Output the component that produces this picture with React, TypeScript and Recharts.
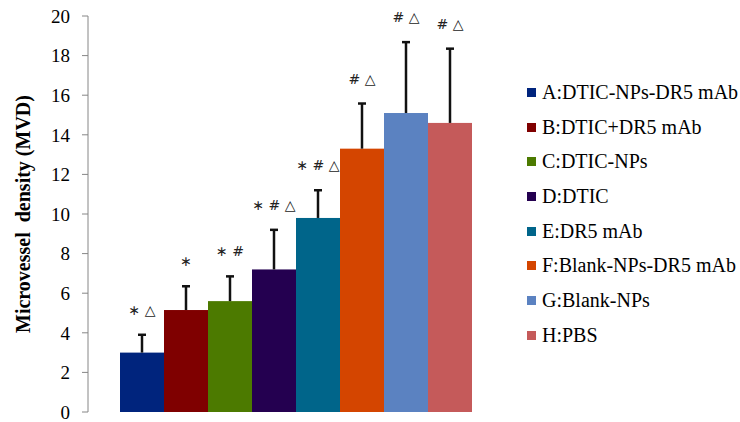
import { BarChart, Bar, XAxis, YAxis, Legend } from "recharts";

const keys = ["A", "B", "C", "D", "E", "F", "G", "H"];
const groups = [
  "A:DTIC-NPs-DR5 mAb",
  "B:DTIC+DR5 mAb",
  "C:DTIC-NPs",
  "D:DTIC",
  "E:DR5 mAb",
  "F:Blank-NPs-DR5 mAb",
  "G:Blank-NPs",
  "H:PBS",
];
const means = [3.0, 5.15, 5.6, 7.2, 9.8, 13.3, 15.1, 14.6];
const errors = [0.9, 1.2, 1.25, 2.0, 1.4, 2.28, 3.58, 3.75];
const marks = ["∗ △", "∗", "∗ #", "∗ # △", "∗ # △", "# △", "# △", "# △"];
const colors = [
  "#00247D",
  "#7F0000",
  "#4C7A00",
  "#240050",
  "#00658A",
  "#D44500",
  "#5B82C1",
  "#C55A5A",
];
const yTicks = [0, 2, 4, 6, 8, 10, 12, 14, 16, 18, 20];

const row: Record<string, string | number> = { name: "MVD" };
keys.forEach((k, i) => {
  row[k] = means[i];
});
const data = [row];

const serif = '"Liberation Serif", "DejaVu Serif", serif';

function BarWithError(props: any) {
  const { x, y, width, height, fill, err, mean, mark } = props;
  const pxPerUnit = height / mean;
  const cx = x + width / 2;
  const top = y - err * pxPerUnit;
  return (
    <g>
      <rect x={x} y={y} width={width} height={height} fill={fill} />
      <line x1={cx} y1={y} x2={cx} y2={top} stroke="#111" strokeWidth={2.5} />
      <line x1={cx - 4} y1={top} x2={cx + 4} y2={top} stroke="#111" strokeWidth={2.5} />
      <text
        x={cx}
        y={top - 20}
        textAnchor="middle"
        fontFamily='"DejaVu Sans", sans-serif'
        fontSize={14}
        fill="#222"
      >
        {mark}
      </text>
    </g>
  );
}

function LegendBox(props: any) {
  const { payload } = props;
  return (
    <div style={{ fontFamily: serif, fontSize: 20, color: "#000" }}>
      {(payload || []).map((entry: any) => (
        <div
          key={entry.value}
          style={{ height: 34.7, display: "flex", alignItems: "center", whiteSpace: "nowrap" }}
        >
          <span
            style={{
              display: "inline-block",
              width: 9,
              height: 9,
              background: entry.color,
              marginRight: 6,
            }}
          />
          {entry.value}
        </div>
      ))}
    </div>
  );
}

export default function App() {
  return (
    <div style={{ position: "absolute", left: 0, top: 0, background: "#fff", fontFamily: serif }}>
      <BarChart
        width={740}
        height={422}
        data={data}
        margin={{ top: 16, right: 238, bottom: 10, left: 0 }}
        barCategoryGap={32}
        barGap={0}
        style={{ fontFamily: serif }}
      >
        <XAxis dataKey="name" hide />
        <YAxis
          domain={[0, 20]}
          ticks={yTicks}
          interval={0}
          width={88}
          tickSize={6}
          tickMargin={12}
          stroke="#868686"
          tick={{ fill: "#000", fontFamily: serif, fontSize: 19 }}
          label={{
            value: "Microvessel\u00A0 density (MVD)",
            angle: -90,
            position: "insideLeft",
            offset: 0,
            dx: 23,
            style: {
              textAnchor: "middle",
              fontFamily: serif,
              fontSize: 20,
              fontWeight: "bold",
              fill: "#000",
            },
          }}
        />
        <Legend
          layout="vertical"
          align="center"
          verticalAlign="middle"
          wrapperStyle={{ left: 527, top: 75, width: 213 }}
          content={<LegendBox />}
        />
        {keys.map((k, i) => (
          <Bar
            key={k}
            dataKey={k}
            name={groups[i]}
            fill={colors[i]}
            isAnimationActive={false}
            shape={(p: any) => (
              <BarWithError {...p} fill={colors[i]} err={errors[i]} mean={means[i]} mark={marks[i]} />
            )}
          />
        ))}
      </BarChart>
    </div>
  );
}
